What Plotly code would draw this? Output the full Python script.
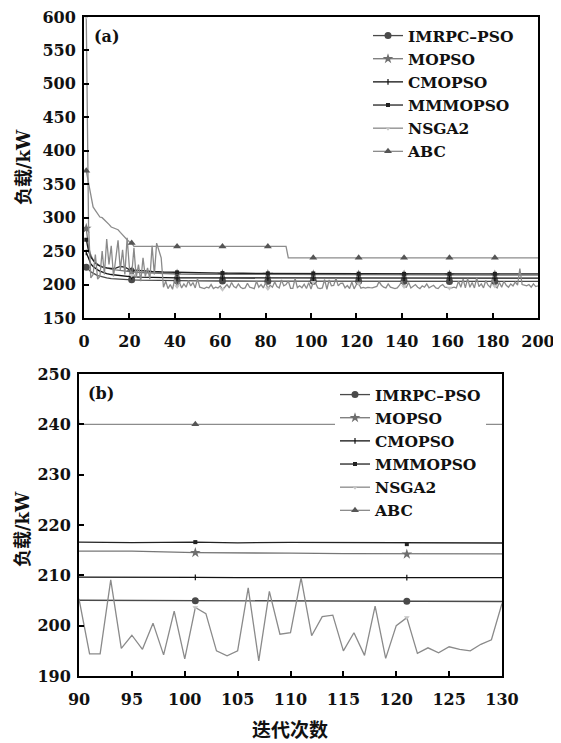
import plotly.graph_objects as go

# ---------------- data ----------------
MARK_X = [1, 21, 41, 61, 81, 101, 121, 141, 161, 181]

smooth_x = [1, 2, 3, 4, 5, 6, 7, 8, 10, 12, 14, 16, 18, 20, 21, 25, 30, 35, 41, 50,
            61, 70, 81, 90, 95, 101, 105, 110, 115, 121, 125, 130, 141, 150, 161,
            170, 181, 190, 200]

imrpc_y = [226, 222, 219, 217, 215, 213.5, 212.5, 211.5, 210, 209, 208.3, 207.8, 207.4,
           207.1, 207, 206.5, 206.1, 205.8, 205.6, 205.4, 205.3, 205.2, 205.1, 205.05,
           205.0, 204.95, 204.9, 204.9, 204.85, 204.85, 204.8, 204.8, 204.8, 204.75,
           204.75, 204.7, 204.7, 204.7, 204.7]

mopso_y = [284, 256, 244, 237, 233, 230, 228, 226.5, 224.5, 223, 221.8, 220.8, 220,
           219.3, 219, 218, 217, 216.3, 215.8, 215.4, 215.2, 215, 214.9, 214.8, 214.8,
           214.5, 214.5, 214.4, 214.3, 214.2, 214.15, 214.1, 214.1, 214.05, 214, 214,
           214, 214, 214]

cmopso_y = [248, 238, 231, 227, 224, 222, 220, 218.5, 216.5, 215, 214, 213, 212.3,
            211.8, 211.6, 211, 210.5, 210.2, 210, 209.9, 209.8, 209.7, 209.7, 209.6,
            209.6, 209.6, 209.55, 209.55, 209.6, 209.55, 209.55, 209.55, 209.5, 209.5,
            209.5, 209.5, 209.5, 209.5, 209.5]

mmmopso_y = [267, 250, 241, 236, 232, 229.5, 227.5, 226.5, 225, 224, 224.5, 227, 226,
             222.5, 222, 220.5, 219.5, 218.8, 218.2, 217.6, 217.2, 216.9, 216.7, 216.6,
             216.5, 216.6, 216.45, 216.55, 216.4, 216.2, 216.05, 216.0, 216, 216, 216,
             216, 216, 216, 216]

nsga2_x = list(range(1, 201))
nsga2_y = [
    600, 288, 210, 215, 245, 208, 212, 250, 215, 268,
    230, 258, 212, 240, 266, 222, 252, 215, 270, 225,
    214, 255, 210, 230, 205, 240, 212, 225, 208, 258,
    215, 262, 250, 240, 196, 205, 194, 200, 193, 208,
    197, 204, 195, 201, 196, 206, 198, 203, 195, 209,
    196, 195, 194, 196, 195, 200, 194, 196, 195, 198,
    193, 196, 200, 195, 203, 197, 195, 201, 196, 194,
    195, 202, 196, 195, 194, 205, 196, 200, 195, 203,
    194, 199, 196, 204, 197, 195, 207, 198, 200, 205.3,
    194.4, 194.4, 209.1, 195.5, 198.1, 195.3, 200.5, 194.2, 202.9, 193.4,
    203.6, 202.4, 195.0, 194.0, 195.0, 207.5, 193.0, 206.8, 198.3, 198.6,
    209.5, 198.0, 201.8, 202.1, 195.0, 198.6, 194.1, 203.9, 193.5, 200.0,
    201.6, 194.5, 195.6, 194.6, 195.8, 195.3, 195.0, 196.3, 197.2, 204.4,
    199, 196, 195, 201, 196, 195, 194, 195, 199, 205,
    197, 196, 203, 195, 197, 200, 196, 194, 198, 196,
    201, 195, 197, 199, 195, 194, 198, 200, 196, 195,
    195, 195, 196, 195, 205, 196, 208, 195, 209, 196,
    203, 195, 210, 197, 201, 195, 206, 199, 196, 208,
    198, 195, 203, 196, 205, 199, 196, 201, 198, 204,
    199, 224, 200, 199, 198, 200, 196, 201, 197, 198,
]

abc_x = [1, 2, 3, 4, 5, 6, 7, 8, 9, 10, 11, 12, 13, 14, 15, 16, 17, 18, 19, 20, 21, 22,
         41, 61, 81, 89, 90, 101, 121, 141, 161, 181, 200]
abc_y = [370, 352, 330, 316, 311, 305, 301, 300, 297, 294, 290, 286, 285, 284, 282, 278,
         274, 270, 267, 264, 262, 257, 257, 257, 257, 257, 240, 240, 240, 240, 240, 240,
         240]

names = ["IMRPC–PSO", "MOPSO", "CMOPSO", "MMMOPSO", "NSGA2", "ABC"]

top_xticks = list(range(0, 201, 20))
top_yticks = list(range(150, 601, 50))
bot_xticks = list(range(90, 131, 5))
bot_yticks = list(range(190, 251, 10))

# ---------------- styles ----------------
series = [
    (names[0], smooth_x, imrpc_y, "#4a4a4a", "circle", 7),
    (names[1], smooth_x, mopso_y, "#777777", "star", 8),
    (names[2], smooth_x, cmopso_y, "#111111", "line-ns", 4),
    (names[3], smooth_x, mmmopso_y, "#222222", "square", 4),
    (names[4], nsga2_x, nsga2_y, "#8a8a8a", "triangle-down", 5),
    (names[5], abc_x, abc_y, "#8c8c8c", "triangle-up", 7),
]
mark_colors = ["#4a4a4a", "#6e6e6e", "#111111", "#222222", "#c4c4c4", "#555555"]

FONT = "DejaVu Serif, Noto Sans CJK SC"

fig = go.Figure()
for panel, (xa, ya, leg) in enumerate([("x", "y", "legend"), ("x2", "y2", "legend2")]):
    for i, (nm, xs, ys, col, sym, ms) in enumerate(series):
        lw = 1.3
        fig.add_trace(go.Scatter(x=xs, y=ys, mode="lines", xaxis=xa, yaxis=ya,
                                 line=dict(color=col, width=lw), showlegend=False,
                                 hoverinfo="skip"))
        mx = [xv for xv in xs if xv in MARK_X]
        my = [ys[xs.index(xv)] for xv in mx]
        mline = dict(width=1.2, color=mark_colors[i]) if sym == "line-ns" else dict(width=0)
        fig.add_trace(go.Scatter(x=mx, y=my, mode="markers", xaxis=xa, yaxis=ya,
                                 marker=dict(symbol=sym, size=ms, color=mark_colors[i],
                                             line=mline),
                                 showlegend=False, hoverinfo="skip"))
        fig.add_trace(go.Scatter(x=[None], y=[None], mode="lines+markers", xaxis=xa,
                                 yaxis=ya, name=nm, legend=leg,
                                 line=dict(color=col, width=lw),
                                 marker=dict(symbol=sym, size=ms, color=mark_colors[i],
                                             line=mline)))

W, H = 561, 743
OFF = 8  # page body margin


def px(v):
    return (v - OFF) / W


def py(v):
    return 1 - (v - OFF) / H


axis_common = dict(showline=True, linecolor="black", linewidth=2, mirror=True,
                   ticks="inside", ticklen=5, tickwidth=1.5, tickcolor="black",
                   showgrid=False, zeroline=False, automargin=False,
                   ticklabeloverflow="allow",
                   tickfont=dict(family=FONT, size=16, color="#111111", weight="bold"))

LEGFONT = dict(family=FONT, size=15.5, color="#111111", weight="bold")
ANN = dict(xref="paper", yref="paper", showarrow=False, xanchor="center", yanchor="middle")

fig.update_layout(
    width=W, height=H, margin=dict(l=0, r=0, t=0, b=0, autoexpand=False),
    paper_bgcolor="white", plot_bgcolor="white",
    xaxis=dict(domain=[px(84), px(538)], range=[0, 200], tickvals=top_xticks,
               anchor="y", ticklabelstandoff=8, **axis_common),
    yaxis=dict(domain=[py(318), py(17)], range=[150, 600], tickvals=top_yticks,
               anchor="x", ticklabelstandoff=3, **axis_common),
    xaxis2=dict(domain=[px(79), px(502)], range=[90, 130], tickvals=bot_xticks,
                anchor="y2", ticklabelstandoff=8, **axis_common),
    yaxis2=dict(domain=[py(676), py(374)], range=[190, 250], tickvals=bot_yticks,
                anchor="x2", ticklabelstandoff=3, **axis_common),
    legend=dict(x=px(368), y=py(19), xanchor="left", yanchor="top",
                bgcolor="white", borderwidth=0, tracegroupgap=0, font=LEGFONT),
    legend2=dict(x=px(335), y=py(378), xanchor="left", yanchor="top",
                 bgcolor="white", borderwidth=0, tracegroupgap=0, font=LEGFONT),
    annotations=[
        dict(text="(a)", x=px(107), y=py(37),
             font=dict(family=FONT, size=16, color="#111111", weight="bold"), **ANN),
        dict(text="(b)", x=px(101), y=py(393),
             font=dict(family=FONT, size=16, color="#111111", weight="bold"), **ANN),
        dict(text="负载/kW", x=px(23), y=py(167), textangle=-90,
             font=dict(family=FONT, size=18, color="#111111", weight="bold"), **ANN),
        dict(text="负载/kW", x=px(22), y=py(529), textangle=-90,
             font=dict(family=FONT, size=18, color="#111111", weight="bold"), **ANN),
        dict(text="迭代次数", x=px(290), y=py(730),
             font=dict(family=FONT, size=19, color="#111111", weight="bold"), **ANN),
    ],
)

fig.write_html("out.html")
